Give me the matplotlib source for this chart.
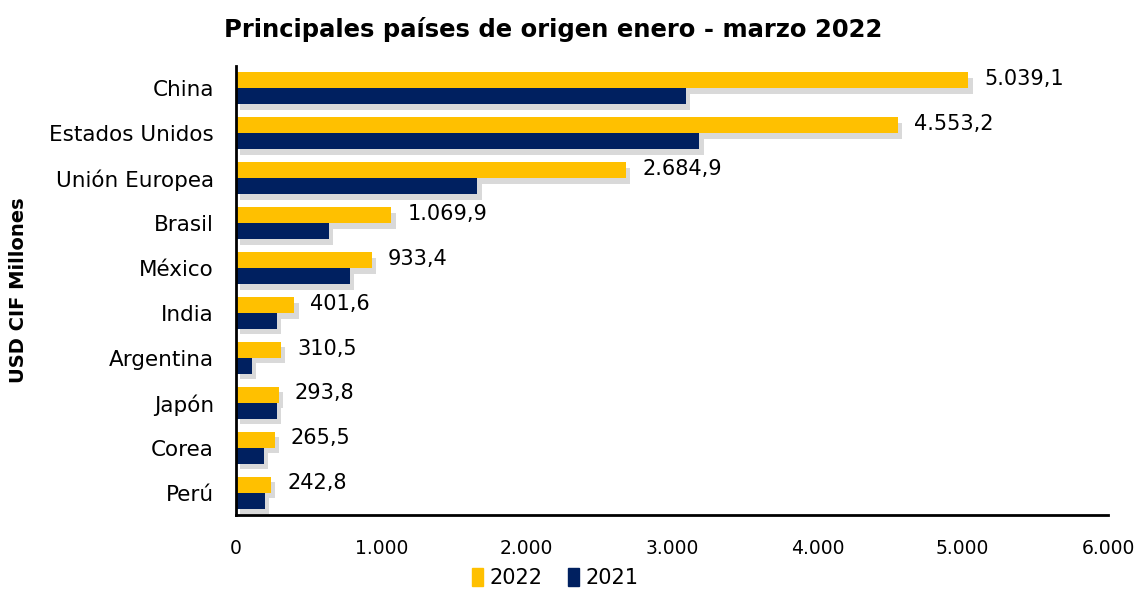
import matplotlib.pyplot as plt
import matplotlib.patheffects as pe
from matplotlib.patches import Patch
import numpy as np

countries = ["China", "Estados Unidos", "Unión Europea", "Brasil", "México",
             "India", "Argentina", "Japón", "Corea", "Perú"]
values_2022 = [5039.1, 4553.2, 2684.9, 1069.9, 933.4, 401.6, 310.5, 293.8, 265.5, 242.8]
values_2021 = [3095, 3189, 1661, 640, 785, 280, 108, 280, 191, 200]
labels_2022 = ["5.039,1", "4.553,2", "2.684,9", "1.069,9", "933,4",
               "401,6", "310,5", "293,8", "265,5", "242,8"]
xticks = [0, 1000, 2000, 3000, 4000, 5000, 6000]
xtick_labels = ["0", "1.000", "2.000", "3.000", "4.000", "5.000", "6.000"]

YELLOW = "#FFC000"
NAVY = "#002060"


def main():
    plt.rcParams["font.family"] = ["DejaVu Sans"]
    fig = plt.figure(figsize=(11.39, 5.89), dpi=100)
    ax = fig.add_axes([236 / 1139, 1 - 515 / 589, (1108 - 236) / 1139, (515 - 66) / 589])

    y = np.arange(len(countries))
    h = 0.356
    shadow = [pe.SimplePatchShadow(offset=(3, -4), shadow_rgbFace="#a0a0a0", alpha=0.4), pe.Normal()]
    ax.barh(y - h / 2, values_2022, height=h, color=YELLOW, path_effects=shadow)
    ax.barh(y + h / 2, values_2021, height=h, color=NAVY, path_effects=shadow)

    for yi, v, lab in zip(y, values_2022, labels_2022):
        ax.text(v + 110, yi - h / 2 - 0.03, lab, va="center", ha="left", fontsize=15)

    ax.set_ylim(len(countries) - 0.5, -0.5)
    ax.set_xlim(0, 6000)
    ax.set_yticks(y)
    ax.set_yticklabels(countries, fontsize=15.5)
    ax.set_xticks(xticks)
    ax.set_xticklabels(xtick_labels, fontsize=13.5)
    ax.tick_params(axis="y", length=0, pad=16)
    ax.tick_params(axis="x", length=0, pad=17)
    for s in ["top", "right"]:
        ax.spines[s].set_visible(False)
    ax.spines["left"].set_linewidth(2)
    ax.spines["bottom"].set_linewidth(2)

    ax.set_ylabel("USD CIF Millones", fontsize=14, fontweight="bold")
    ax.yaxis.set_label_coords((28 - 236) / 872, 0.5)
    fig.suptitle("Principales países de origen enero - marzo 2022", fontsize=17.5,
                 fontweight="bold", x=553 / 1139, y=1 - 30 / 589, va="center")

    handles = [Patch(color=YELLOW, label="2022"), Patch(color=NAVY, label="2021")]
    fig.legend(handles=handles, loc="center", bbox_to_anchor=(555 / 1139, 1 - 578 / 589),
               ncol=2, frameon=False, fontsize=15, handlelength=0.55, handleheight=1.0,
               handletextpad=0.3, columnspacing=1.2)
    fig.savefig("out.png", dpi=100)


if __name__ == "__main__":
    main()
